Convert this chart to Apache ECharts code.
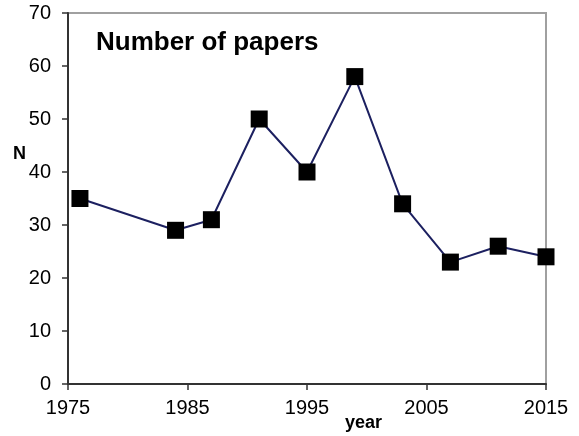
<!DOCTYPE html>
<html>
<head>
<meta charset="utf-8">
<script src="https://cdn.jsdelivr.net/npm/echarts@6/dist/echarts.min.js"></script>
<style>html,body{margin:0;padding:0;background:#fff}#c{width:579px;height:436px}</style>
</head>
<body>
<div id="c"></div>
<script>
var years = [1976, 1984, 1987, 1991, 1995, 1999, 2003, 2007, 2011, 2015];
var papers = [35, 29, 31, 50, 40, 58, 34, 23, 26, 24];
var titleText = 'Number of papers';
var xName = 'year';
var yName = 'N';

var chart = echarts.init(document.getElementById('c'));
var font = '"Liberation Sans", Arial, sans-serif';
chart.setOption({
  animation: false,
  backgroundColor: '#fff',
  grid: { left: 68, right: 33, top: 13, bottom: 52, show: true, borderColor: '#a0a0a0', borderWidth: 2, containLabel: false },
  xAxis: {
    type: 'value', min: 1975, max: 2015, interval: 10,
    axisLine: { show: true, onZero: false, lineStyle: { color: '#333', width: 2 } },
    axisTick: { show: true, inside: false, length: 6, lineStyle: { color: '#333', width: 1.5 } },
    axisLabel: { color: '#000', fontSize: 20, fontFamily: font, margin: 14, formatter: function (v) { return String(v); } },
    splitLine: { show: false }
  },
  yAxis: {
    type: 'value', min: 0, max: 70, interval: 10,
    axisLine: { show: true, lineStyle: { color: '#333', width: 2 } },
    axisTick: { show: true, inside: false, length: 6, lineStyle: { color: '#333', width: 1.5 } },
    axisLabel: { color: '#000', fontSize: 20, fontFamily: font, margin: 17 },
    splitLine: { show: false }
  },
  graphic: [
    { type: 'text', left: 96, top: 30, style: { text: titleText, font: 'bold 26px ' + font, fill: '#000' } },
    { type: 'text', left: 13, top: 145, style: { text: yName, font: 'bold 18px ' + font, fill: '#000' } },
    { type: 'text', left: 345, top: 414, style: { text: xName, font: 'bold 18px ' + font, fill: '#000' } }
  ],
  series: [{
    type: 'line',
    data: years.map(function (y, i) { return [y, papers[i]]; }),
    symbol: 'rect', symbolSize: 17,
    itemStyle: { color: '#000' },
    lineStyle: { color: '#1c2060', width: 2 },
    clip: false
  }]
});
</script>
</body>
</html>
